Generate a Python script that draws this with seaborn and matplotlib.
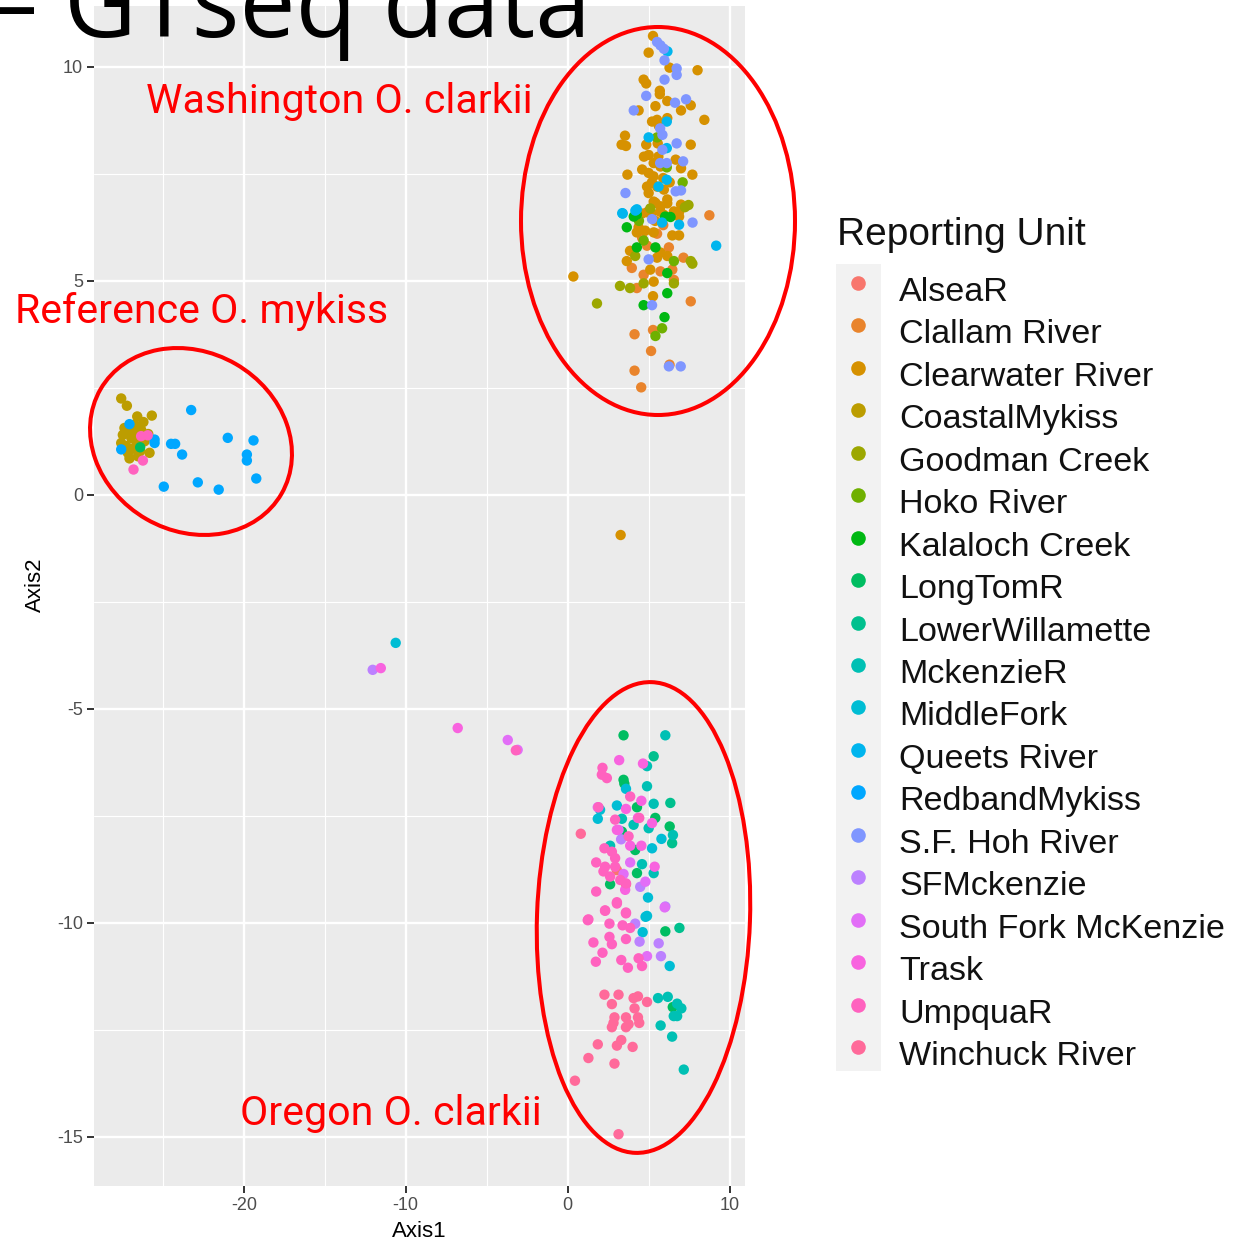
import numpy as np
import pandas as pd
import matplotlib
matplotlib.use("Agg")
import matplotlib.pyplot as plt
from matplotlib.patches import Ellipse, Rectangle
from matplotlib.lines import Line2D
import seaborn as sns

# ---------------- data ----------------
units = ["AlseaR", "Clallam River", "Clearwater River", "CoastalMykiss", "Goodman Creek",
         "Hoko River", "Kalaloch Creek", "LongTomR", "LowerWillamette", "MckenzieR",
         "MiddleFork", "Queets River", "RedbandMykiss", "S.F. Hoh River", "SFMckenzie",
         "South Fork McKenzie", "Trask", "UmpquaR", "Winchuck River"]

alsea = [(3.04, -8.77), (3.6, -9.1)]
clallam = [(8.75, 6.53), (5.52, 6.1), (4.9, 5.82), (6.25, 5.78), (7.15, 5.54), (3.96, 5.3),
           (4.69, 5.14), (5.73, 5.22), (6.46, 5.26), (6.56, 5.02), (4.27, 4.83), (7.6, 4.52),
           (5.27, 3.85), (4.13, 3.75), (5.15, 3.36), (4.13, 2.9), (4.54, 2.51), (6.29, 3.04),
           (4.6, 6.0), (5.9, 6.3)]
clearwater = [(5.27, 10.72), (5.0, 10.33), (6.29, 9.98), (8.02, 9.92), (4.69, 9.70), (4.85, 9.61),
              (5.69, 9.44), (5.69, 9.36), (6.15, 9.20), (5.42, 9.08), (7.6, 9.1), (7.0, 8.98),
              (4.38, 8.98), (8.44, 8.76), (5.21, 8.72), (5.52, 8.76), (6.15, 8.8), (5.63, 8.62),
              (3.54, 8.39), (3.33, 8.18), (3.6, 8.15), (4.85, 8.18), (5.56, 8.21), (7.6, 8.18),
              (4.71, 7.9), (5.0, 7.94), (5.31, 7.75), (5.73, 7.67), (6.67, 7.83), (7.0, 7.63),
              (4.6, 7.6), (5.0, 7.52), (5.3, 7.44), (3.69, 7.48), (7.7, 7.48), (5.2, 7.3),
              (5.52, 7.2), (5.94, 7.13), (5.0, 7.05), (6.15, 6.9), (5.42, 6.82), (5.73, 6.74),
              (5.2, 6.58), (6.56, 6.62), (6.88, 6.5), (5.94, 6.54), (7.0, 6.78), (5.31, 6.85),
              (6.15, 6.81), (4.58, 6.57), (5.73, 6.61), (6.88, 6.61), (4.38, 6.25), (4.79, 6.17),
              (4.27, 6.13), (5.31, 6.13), (6.46, 6.06), (6.88, 6.06), (3.85, 5.70), (5.73, 5.66),
              (6.15, 5.58), (3.65, 5.46), (5.52, 5.54), (5.1, 5.26), (5.31, 4.98), (0.35, 5.1),
              (5.27, 4.64), (3.27, -0.94), (5.6, 7.9), (5.9, 7.4), (4.9, 7.2), (6.3, 7.3),
              (5.4, 6.4), (4.9, 6.6)]
coastal = [(-27.57, 2.25), (-27.22, 2.08), (-26.58, 1.83), (-25.68, 1.85), (-26.75, 1.64),
           (-27.37, 1.56), (-27.06, 1.48), (-26.34, 1.52), (-27.47, 1.40), (-26.95, 1.33),
           (-26.13, 1.25), (-27.57, 1.21), (-26.75, 1.1), (-27.16, 0.98), (-25.82, 0.98),
           (-26.54, 0.90), (-27.06, 0.85), (-26.85, 1.48), (-26.54, 1.33), (-27.26, 1.14),
           (-26.2, 1.7), (-26.6, 1.2), (-27.0, 1.05), (-26.4, 1.02), (-25.9, 1.42), (-26.9, 1.6)]
goodman = [(7.24, 6.72), (7.46, 6.77), (5.1, 6.69), (4.17, 5.58), (7.6, 5.46), (7.7, 5.4),
           (6.56, 4.94), (3.23, 4.88), (3.85, 4.83), (1.81, 4.47), (4.69, 4.94)]
hoko = [(7.1, 7.3), (5.52, 8.35), (6.12, 7.65), (4.69, 5.94), (6.56, 5.46), (5.42, 3.71),
        (5.83, 3.89), (4.4, 6.4)]
kalaloch = [(4.08, 6.5), (6.02, 6.5), (3.65, 6.25), (4.27, 6.55), (6.35, 6.49), (4.27, 5.78),
            (5.42, 5.78), (6.15, 5.18), (6.15, 4.71), (4.69, 4.43), (5.98, 4.15)]
longtom = [(3.45, -5.62), (3.45, -6.66), (3.5, -6.75), (4.28, -7.30), (5.41, -7.55),
           (6.30, -7.75), (4.17, -8.3), (4.28, -8.84), (2.62, -9.10), (3.35, -7.87),
           (6.03, -10.2), (6.49, -11.97), (-26.4, 1.11)]
lowerwill = [(5.31, -6.11), (6.34, -7.2), (6.45, -8.14), (6.9, -10.12)]
mckenzie = [(6.03, -5.62), (4.9, -6.34), (4.07, -7.71), (5.0, -7.79), (4.9, -6.81), (5.31, -7.22),
            (6.5, -7.95), (2.62, -8.2), (5.31, -8.84), (4.59, -8.63), (5.58, -11.76),
            (6.18, -11.73), (6.76, -11.89), (7.02, -12.0), (6.55, -12.18), (6.76, -12.18),
            (5.74, -12.4), (6.45, -12.66), (7.17, -13.43), (3.35, -7.57)]
middlefork = [(3.6, -6.87), (1.86, -7.57), (4.96, -9.41), (4.81, -9.86), (3.04, -7.26),
              (5.79, -8.04), (5.21, -8.26), (2.0, -7.36), (4.9, -9.84), (4.63, -10.22),
              (6.3, -11.01), (-10.62, -3.46)]
queets = [(6.16, 10.36), (5.0, 8.35), (6.12, 8.72), (6.12, 8.1), (6.12, 7.36), (5.61, 7.2),
          (3.37, 6.58), (4.18, 6.64), (3.4, 6.57), (4.27, 6.67), (5.83, 6.36), (6.88, 6.31),
          (9.17, 5.82)]
redband = [(-23.25, 1.98), (-25.51, 1.29), (-25.51, 1.21), (-24.49, 1.19), (-24.24, 1.19),
           (-23.81, 0.94), (-20.99, 1.33), (-19.40, 1.27), (-19.81, 0.94), (-19.81, 0.80),
           (-19.23, 0.38), (-22.84, 0.29), (-24.94, 0.19), (-21.55, 0.12), (-27.06, 1.65),
           (-27.57, 1.06)]
sfhoh = [(5.52, 10.58), (5.73, 10.5), (5.94, 10.42), (5.98, 10.15), (6.73, 9.96), (6.73, 9.81),
         (5.98, 9.70), (4.85, 9.32), (6.63, 9.16), (7.31, 9.24), (4.08, 8.98), (5.71, 8.56),
         (5.85, 8.41), (6.73, 8.21), (5.85, 8.06), (7.13, 7.79), (5.71, 7.75), (6.12, 7.75),
         (3.57, 7.05), (6.67, 7.09), (7.0, 7.11), (5.21, 6.44), (7.71, 6.36), (5.0, 5.5),
         (5.21, 4.43), (6.25, 3.0), (6.98, 3.0)]
sfmckenzie = [(6.03, -9.62), (4.17, -10.02), (4.44, -10.44), (5.62, -10.48), (5.76, -10.78),
              (-12.04, -4.09), (3.3, -8.05), (4.48, -9.16)]
southfork = [(1.86, -7.3), (3.14, -7.83), (3.86, -8.59), (3.45, -8.86), (4.8, -9.04),
             (5.99, -9.64), (4.9, -10.78), (-3.70, -5.73), (-3.09, -5.96)]
trask = [(3.18, -6.2), (4.65, -6.28), (4.55, -7.15), (3.6, -7.34), (4.34, -7.55), (5.21, -7.67),
         (3.04, -7.83), (3.86, -8.2), (4.55, -8.2), (5.37, -8.69), (3.55, -9.23), (-6.79, -5.45),
         (-11.54, -4.05)]
umpqua = [(2.15, -6.38), (2.11, -6.54), (2.42, -6.62), (1.9, -7.3), (3.86, -7.05), (4.42, -7.55),
          (2.93, -7.59), (3.76, -7.98), (2.27, -8.26), (2.73, -8.34), (2.93, -8.49), (1.76, -8.59),
          (2.31, -8.69), (2.21, -8.8), (2.93, -8.69), (2.62, -8.92), (3.25, -9.0), (3.6, -9.08),
          (1.76, -9.27), (3.04, -9.55), (2.31, -9.72), (3.6, -9.78), (1.28, -9.92), (3.04, -9.52),
          (2.31, -9.71), (3.6, -9.76), (1.24, -9.94), (2.58, -10.02), (3.39, -10.06),
          (3.86, -10.12), (2.58, -10.33), (1.59, -10.46), (2.73, -10.5), (3.6, -10.38),
          (2.15, -10.7), (1.74, -10.91), (3.31, -10.87), (3.72, -11.05), (4.38, -10.83),
          (4.59, -11.01), (-3.2, -5.97), (-26.34, 1.37), (-25.93, 1.39), (-26.23, 0.80),
          (-26.81, 0.59)]
winchuck = [(2.27, -11.68), (3.14, -11.68), (4.07, -11.76), (4.34, -11.72), (4.9, -11.85),
            (2.73, -11.9), (4.13, -12.0), (2.89, -12.21), (3.6, -12.21), (4.34, -12.21),
            (2.83, -12.34), (4.42, -12.34), (2.73, -12.44), (3.6, -12.44), (3.76, -12.37),
            (3.31, -12.74), (1.86, -12.84), (3.04, -12.87), (4.01, -12.9), (1.28, -13.16),
            (2.89, -13.29), (0.45, -13.69), (3.14, -14.94), (0.81, -7.92)]

groups = [alsea, clallam, clearwater, coastal, goodman, hoko, kalaloch, longtom, lowerwill,
          mckenzie, middlefork, queets, redband, sfhoh, sfmckenzie, southfork, trask, umpqua,
          winchuck]

x_breaks = [-20, -10, 0, 10]
x_minor = [-25, -15, -5, 5]
y_breaks = [-15, -10, -5, 0, 5, 10]
y_minor = [-12.5, -7.5, -2.5, 2.5, 7.5]


# ---------------- colours (ggplot hue palette) ----------------
def hcl_hex(h, c=100.0, l=65.0):
    hr = np.deg2rad(h)
    U, V = c * np.cos(hr), c * np.sin(hr)
    Xn, Yn, Zn = 95.047, 100.0, 108.883
    un = 4 * Xn / (Xn + 15 * Yn + 3 * Zn)
    vn = 9 * Yn / (Xn + 15 * Yn + 3 * Zn)
    Y = Yn * ((l + 16) / 116) ** 3
    u = U / (13 * l) + un
    v = V / (13 * l) + vn
    X = 9.0 * Y * u / (4 * v)
    Z = -X / 3 - 5 * Y + 3 * Y / v
    X, Y, Z = X / 100, Y / 100, Z / 100
    r = 3.240479 * X - 1.537150 * Y - 0.498535 * Z
    g = -0.969256 * X + 1.875992 * Y + 0.041556 * Z
    b = 0.055648 * X - 0.204043 * Y + 1.057311 * Z
    out = []
    for ch in (r, g, b):
        ch = 1.055 * ch ** (1 / 2.4) - 0.055 if ch > 0.0031308 else 12.92 * ch
        out.append(min(max(ch, 0), 1))
    return matplotlib.colors.to_hex(out)


n = len(units)
hues = np.linspace(15, 375, n + 1)[:-1]
colors = [hcl_hex(h) for h in hues]
palette = dict(zip(units, colors))

rows = []
for u, pts in zip(units, groups):
    for (x, y) in pts:
        rows.append({"Axis1": x, "Axis2": y, "Reporting Unit": u})
df = pd.DataFrame(rows)

# ---------------- figure ----------------
sns.set_style("darkgrid", {"axes.facecolor": "#EBEBEB", "grid.color": "white"})
plt.rcParams["font.family"] = ["Liberation Sans", "DejaVu Sans"]
plt.rcParams["axes.unicode_minus"] = False

W, H = 1255, 1242
fig = plt.figure(figsize=(W / 100, H / 100), dpi=100)
fig.patch.set_facecolor("white")

pl, pr, pt, pb = 94, 745, 6, 1186
ax = fig.add_axes([pl / W, 1 - pb / H, (pr - pl) / W, (pb - pt) / H])
ax.set_facecolor("#EBEBEB")

sns.scatterplot(data=df, x="Axis1", y="Axis2", hue="Reporting Unit", hue_order=units,
                palette=palette, s=56, linewidth=0, alpha=1, legend=False, ax=ax, zorder=3)

ax.set_xlim(-29.25, 10.95)
ax.set_ylim(-16.15, 11.42)
ax.set_xticks(x_breaks)
ax.set_xticks(x_minor, minor=True)
ax.set_yticks(y_breaks)
ax.set_yticks(y_minor, minor=True)
ax.grid(which="major", color="white", lw=1.7, zorder=0)
ax.grid(which="minor", color="white", lw=0.8, zorder=0)
ax.set_axisbelow(True)
for s in ax.spines.values():
    s.set_visible(False)
ax.tick_params(which="major", length=5, width=1.4, color="#333333", labelsize=13,
               labelcolor="#4D4D4D", pad=3, bottom=True, left=True)
ax.tick_params(which="minor", length=0)
ax.set_xlabel("Axis1", fontsize=16, color="black")
ax.set_ylabel("Axis2", fontsize=16, color="black")
ax.xaxis.set_label_coords(0.5, -(1221 - pb) / (pb - pt))
ax.yaxis.set_label_coords((46 - pl) / (pr - pl), (pb - 585) / (pb - pt))

tr = fig.dpi_scale_trans


def P(x, y):
    return (x / 100, (H - y) / 100)


# title fragment (cut at top of slide, as in the source)
fig.text(*P(-12, 37), "\u2013 GTseq data", transform=tr, fontsize=72,
         family=["Open Sans", "DejaVu Sans"], color="black", va="baseline", ha="left")

# red annotations
red = "#FF0000"
for ctr, w, h, ang in [((658, 221), 274, 388, 0), ((191, 441.5), 209, 179, -30),
                       ((643.5, 917.5), 213, 471, -2)]:
    fig.add_artist(Ellipse(P(*ctr), w / 100, h / 100, angle=ang, transform=tr,
                           fill=False, edgecolor=red, lw=2.9, zorder=10))
for (x, y), s in [((146, 113), "Washington O. clarkii"), ((15, 323), "Reference O. mykiss"),
                  ((240, 1125), "Oregon O. clarkii")]:
    fig.text(*P(x, y), s, transform=tr, fontsize=29.6, family=["Roboto", "DejaVu Sans"],
             color=red, va="baseline", ha="left", zorder=11)

# legend
fig.text(*P(837, 245), "Reporting Unit", transform=tr, fontsize=28, color="#111111",
         va="baseline", ha="left")
fig.add_artist(Rectangle(P(836, 1071), 45 / 100, (1071 - 264) / 100, transform=tr,
                         facecolor="#F2F2F2", edgecolor="none"))
pitch = (1047 - 283) / 18
for i, u in enumerate(units):
    yy = 283 + i * pitch
    fig.add_artist(Line2D([858 / 100], [(H - yy) / 100], transform=tr, marker="o",
                          markersize=10.5, markeredgewidth=0, color=palette[u], linestyle=""))
    fig.text(*P(899, yy + 18), u, transform=tr, fontsize=24.6, color="#111111",
             va="baseline", ha="left")

fig.savefig("out.png", dpi=100)
